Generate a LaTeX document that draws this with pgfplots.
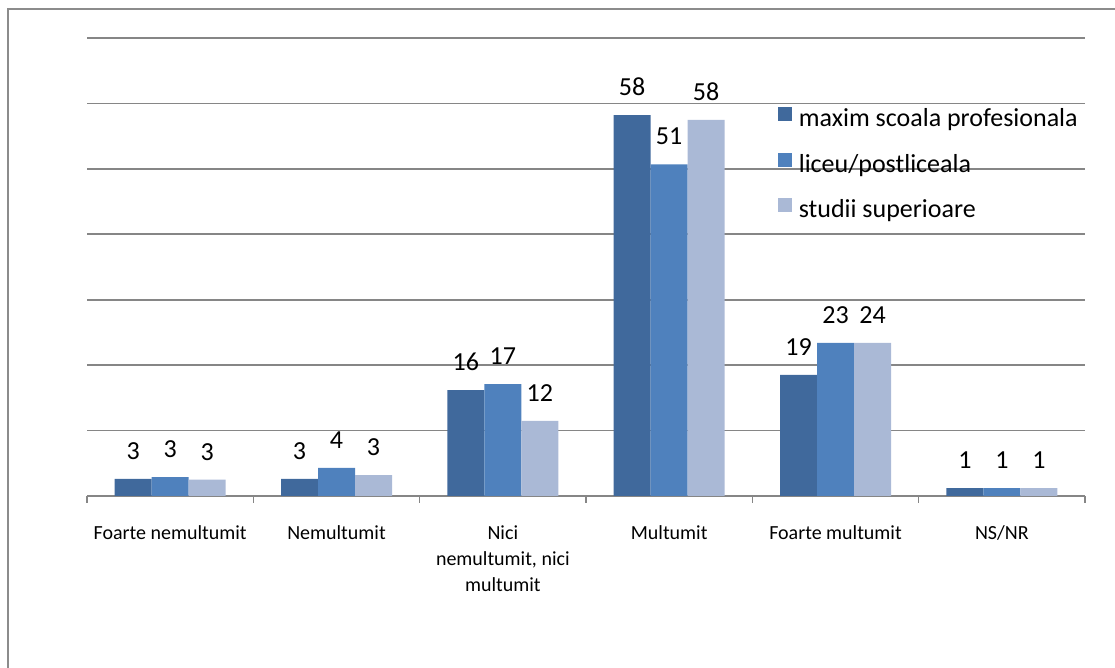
\documentclass[border=0pt]{standalone}
\usepackage{pgfplots}
\pgfplotsset{compat=1.18}
\usepackage{fontspec}
\setmainfont{Carlito}
\definecolor{serA}{RGB}{64,105,156}
\definecolor{serB}{RGB}{79,129,189}
\definecolor{serC}{RGB}{170,185,214}
\definecolor{gridc}{RGB}{134,134,134}
\definecolor{framec}{RGB}{140,140,140}

% x, bar height, data label
\pgfplotstableread{
x y lbl
0 2.6 3
1 2.6 3
2 16.2 16
3 58.2 58
4 18.5 19
5 1.2 1
}\maxim
\pgfplotstableread{
x y lbl
0 2.9 3
1 4.3 4
2 17.1 17
3 50.7 51
4 23.4 23
5 1.2 1
}\liceu
\pgfplotstableread{
x y lbl
0 2.5 3
1 3.2 3
2 11.5 12
3 57.5 58
4 23.4 24
5 1.2 1
}\studii

\begin{document}
\begin{tikzpicture}[x=1pt,y=1pt]
\useasboundingbox (0,0) rectangle (1115,668);
\draw[framec,line width=2pt] (8,0) -- (8,659) -- (1116,659);
\begin{axis}[
  at={(87pt,172pt)}, anchor=south west,
  scale only axis,
  width=998pt, height=458pt,
  xmin=-0.5, xmax=5.5, ymin=0, ymax=70,
  ybar=0pt, bar width=37pt,
  axis line style={draw=none},
  ytick={0,10,...,70}, yticklabels={},
  y tick style={draw=none},
  ymajorgrids,
  grid style={gridc, line width=1.6pt},
  xtick={-0.5,0.5,...,5.5},
  x tick label as interval,
  xtick pos=bottom,
  tick align=outside,
  major tick length=7pt,
  x tick style={gridc, line width=1.6pt},
  xticklabels={Foarte nemultumit, Nemultumit, {Nici\\nemultumit, nici\\multumit}, Multumit, Foarte multumit, NS/NR},
  xticklabel style={font=\fontsize{20pt}{26pt}\selectfont, align=center, yshift=-19pt},
  nodes near coords,
  point meta=explicit symbolic,
  every node near coord/.append style={font=\fontsize{26pt}{30pt}\selectfont, black, inner sep=0pt, yshift=19pt},
  legend cell align=left,
  legend style={at={(0.689,0.855)}, anchor=north west, draw=none, fill=none,
    font=\fontsize{26pt}{30pt}\selectfont, row sep=22pt,
    /tikz/every odd column/.append style={column sep=5pt}},
  legend image code/.code={\fill[#1] (0pt,-3pt) rectangle (14pt,11pt);},
]
\addplot[fill=serA, draw=none] table[x=x, y=y, meta=lbl] {\maxim};
\addplot[fill=serB, draw=none] table[x=x, y=y, meta=lbl] {\liceu};
\addplot[fill=serC, draw=none] table[x=x, y=y, meta=lbl] {\studii};
\legend{maxim scoala profesionala, liceu/postliceala, studii superioare}
\end{axis}
\end{tikzpicture}
\end{document}
